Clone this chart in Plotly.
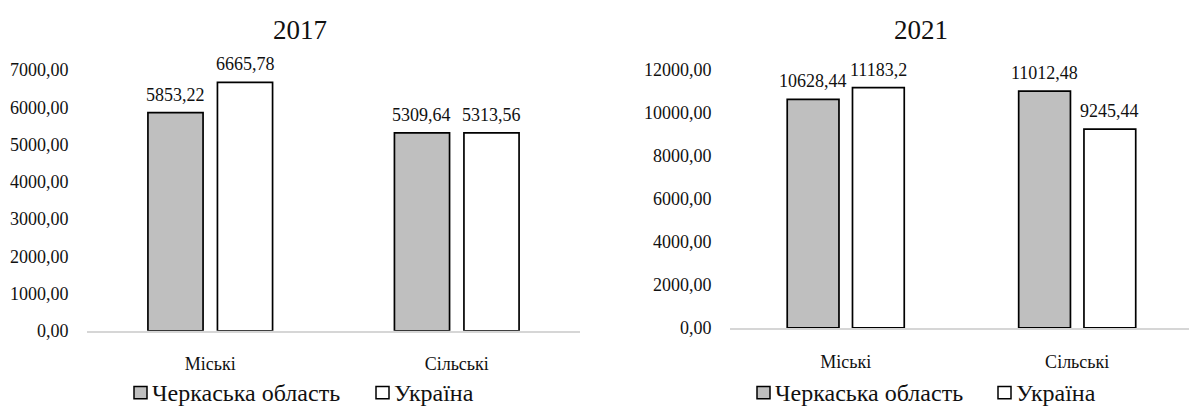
import plotly.graph_objects as go

# Average monthly household income, UAH: Cherkasy region vs Ukraine
categories = ["Міські", "Сільські"]
series_names = ["Черкаська область", "Україна"]

values_2017_region = [5853.22, 5309.64]
values_2017_ukraine = [6665.78, 5313.56]
values_2021_region = [10628.44, 11012.48]
values_2021_ukraine = [11183.2, 9245.44]

year_titles = ["2017", "2021"]
y_ticks_2017 = [0, 1000, 2000, 3000, 4000, 5000, 6000, 7000]
y_ticks_2021 = [0, 2000, 4000, 6000, 8000, 10000, 12000]

W, H = 1189, 416
FONT = "Liberation Serif"
INK = "#111111"
GRAY = "#bfbfbf"
BAR_GAP = 0.436
BAR_GROUP_GAP = 0.207

fills = [GRAY, "#ffffff"]
x_pos = list(range(len(categories)))


def px_x(v):
    return v / W


def px_y(v):
    return (H - v) / H


def label(v):
    return str(v).replace(".", ",")


def tick_text(ticks):
    return [f"{t:.2f}".replace(".", ",") for t in ticks]


fig = go.Figure()

panels = [
    (values_2017_region, values_2017_ukraine, "x", "y"),
    (values_2021_region, values_2021_ukraine, "x2", "y2"),
]

annotations = []
shapes = []
offset = (1 - BAR_GAP) / 4
for region_vals, ukr_vals, xa, ya in panels:
    for k, (name, vals) in enumerate(zip(series_names, [region_vals, ukr_vals])):
        fig.add_trace(go.Bar(
            x=x_pos, y=vals, name=name, xaxis=xa, yaxis=ya, showlegend=False,
            marker=dict(color=fills[k], line=dict(color="#000000", width=1.7)),
            hoverinfo="skip",
        ))
        sign = -1 if k == 0 else 1
        for i, v in enumerate(vals):
            annotations.append(dict(
                x=x_pos[i] + sign * offset, y=v, xref=xa, yref=ya,
                text=label(v), showarrow=False, yanchor="middle", yshift=18,
                font=dict(family=FONT, size=18, color=INK),
            ))

# panel titles
for title, xc in zip(year_titles, [300, 921]):
    annotations.append(dict(
        x=px_x(xc), y=px_y(20.5), xref="paper", yref="paper",
        text=title, showarrow=False, xanchor="center", yanchor="middle",
        font=dict(family=FONT, size=27, color=INK),
    ))

# legend under each panel: a boxed swatch followed by the series name
LEGEND_Y = 402
SWATCH = 13
legend_starts = [(134, 376), (757, 998)]
for starts in legend_starts:
    for k, (name, x0) in enumerate(zip(series_names, starts)):
        shapes.append(dict(
            type="rect", xref="paper", yref="paper",
            x0=px_x(x0), x1=px_x(x0 + SWATCH),
            y0=px_y(LEGEND_Y + SWATCH / 2), y1=px_y(LEGEND_Y - SWATCH / 2),
            fillcolor=fills[k], line=dict(color="#000000", width=1.5),
        ))
        annotations.append(dict(
            x=px_x(x0 + SWATCH + 3), y=px_y(LEGEND_Y), xref="paper", yref="paper",
            text=name, showarrow=False, xanchor="left", yanchor="middle",
            font=dict(family=FONT, size=24, color=INK),
        ))


def xaxis_style():
    return dict(
        tickvals=x_pos, ticktext=categories, showgrid=False, zeroline=False,
        showline=True, linecolor="#d6d6d6", linewidth=2,
        ticks="outside", ticklen=16, tickcolor="rgba(0,0,0,0)",
        tickfont=dict(family=FONT, size=18, color=INK), fixedrange=True,
    )


def yaxis_style(ticks):
    return dict(
        tickvals=ticks, ticktext=tick_text(ticks),
        showgrid=False, zeroline=False, showline=False,
        ticks="outside", ticklen=14, tickcolor="rgba(0,0,0,0)",
        tickfont=dict(family=FONT, size=18, color=INK), fixedrange=True,
    )


fig.update_layout(
    width=W, height=H,
    font=dict(family=FONT, size=18, color=INK),
    margin=dict(l=0, r=0, t=0, b=0),
    paper_bgcolor="#ffffff", plot_bgcolor="#ffffff",
    barmode="group", bargap=BAR_GAP, bargroupgap=BAR_GROUP_GAP,
    showlegend=False,
    xaxis=dict(domain=[px_x(87), px_x(580)], range=[-0.5, 1.5], anchor="y", **xaxis_style()),
    yaxis=dict(domain=[px_y(337), px_y(63)], range=[0, 7000],
               anchor="x", **yaxis_style(y_ticks_2017)),
    xaxis2=dict(domain=[px_x(730), 1.0], range=[-0.5, 1.483], anchor="y2", **xaxis_style()),
    yaxis2=dict(domain=[px_y(334), px_y(63)], range=[0, 12000],
                anchor="x2", **yaxis_style(y_ticks_2021)),
    annotations=annotations,
    shapes=shapes,
)

fig.write_html("out.html", config={"displayModeBar": False})
